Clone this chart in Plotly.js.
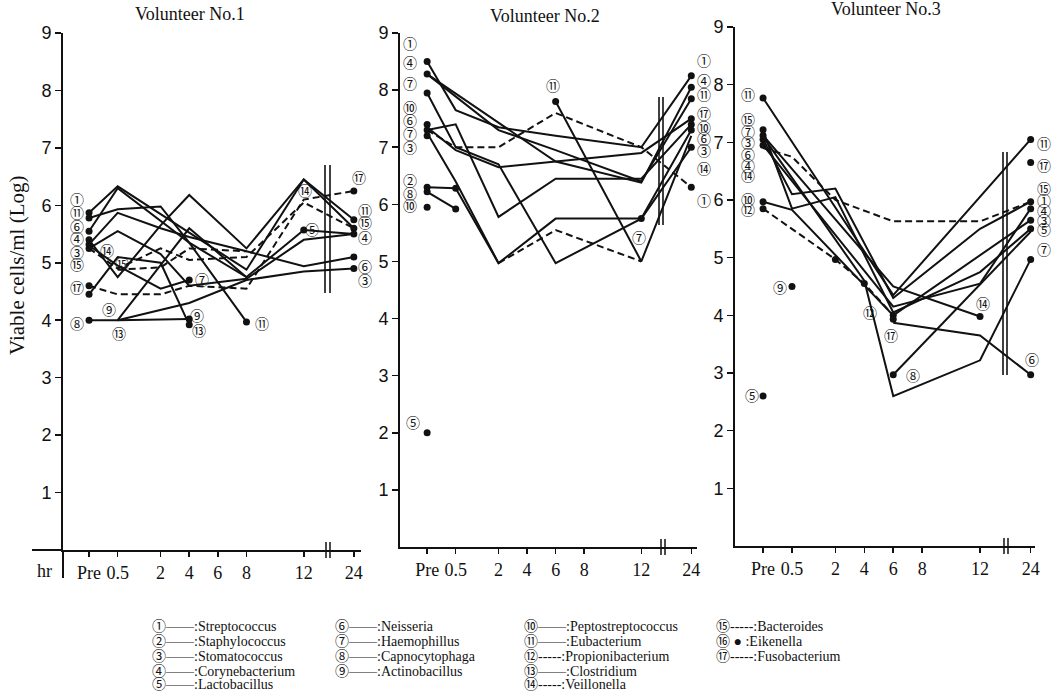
<!DOCTYPE html>
<html><head><meta charset="utf-8">
<script src="https://cdn.plot.ly/plotly-3.0.1.min.js"></script>
<style>body{margin:0;background:#fff}#chart{width:1055px;height:692px}</style>
</head><body><div id="chart"></div>
<script>
// ---------- axis categories ----------
const timeLabels = ["Pre","0.5","2","4","6","8","12","24"];
const timePos = [0, 1, 2.5, 3.5, 4.5, 5.5, 7.5, 9.25];
const yTicks = [1,2,3,4,5,6,7,8,9];

// ---------- Volunteer No.1 (log viable cells/ml at Pre,0.5,2,4,6,8,12,24 h) ----------
const v1_s1 = [5.87, 6.33, null, null, null, 4.88, 6.45, 5.75];
const v1_s2 = [5.78, 5.93, 5.98, 5.35, null, 4.75, 5.57, 5.5];
const v1_s3 = [5.4, 4.75, 5.65, 6.18, null, 5.25, 6.45, 5.6];
const v1_s4 = [5.32, 5.87, 5.6, 5.45, null, 5.2, 4.94, 5.1];
const v1_s5 = [5.25, 5.55, 5.15, 4.6, null, 4.72, 5.4, 5.5];
const v1_s6 = [5.55, 6.3, null, 5.35, null, 3.97, null, null];
const v1_s7 = [4.0, 4.0, null, 4.02, null, null, null, null];
const v1_s8 = [null, 4.0, null, 5.6, null, 4.75, null, null];
const v1_s9 = [null, 4.0, null, 4.3, null, 4.7, 4.85, 4.9];
const v1_s10 = [4.45, 5.1, 5.0, 3.92, null, null, null, null];
const v1_s11 = [5.3, 4.95, 4.55, 4.7, null, null, null, null];
const v1_d1 = [4.6, 4.45, 4.45, 4.6, null, 4.55, 6.1, 6.25];
const v1_d2 = [5.25, 4.9, 5.25, 5.05, null, 5.1, 6.05, 5.6];
const v1_d3 = [null, 4.88, 4.92, 5.25, null, 5.2, null, null];
const v1DotIdx = [0,0,0,0,0,0,0,0,0, 3,3,3, 5, 6, 7,7,7,7,7,7];
const v1DotVal = [5.87,5.78,5.55,5.4,5.32,5.25,4.6,4.45,4.0, 4.7,4.02,3.92, 3.97, 5.57, 6.25,5.75,5.6,5.5,5.1,4.9];
const v1LabText = ["①","⑪","⑥","④","③","⑮","⑰","⑧","⑭","⑮","⑨","⑬","⑦","⑨","⑬","⑪","⑭","⑤","⑰","⑪","⑮","④","⑥","③"];
const v1LabIdx  = [0,0,0,0,0,0,0,0, 1,1,1,1, 3,3,3, 5, 6,6, 7,7,7,7,7,7];
const v1LabDx   = [-0.42,-0.42,-0.42,-0.42,-0.42,-0.42,-0.42,-0.42, -0.37,0.15,-0.3,0.05, 0.44,0.28,0.34, 0.55, 0.03,0.3, 0.18,0.4,0.4,0.4,0.4,0.4];
const v1LabVal  = [6.11,5.89,5.64,5.43,5.19,4.98,4.58,3.95, 5.22,5.0,4.2,3.78, 4.72,4.09,3.83, 3.95, 6.27,5.59, 6.5,5.92,5.71,5.45,4.95,4.7];

// ---------- Volunteer No.2 ----------
const v2_s1 = [8.5, 7.65, 7.35, null, 7.2, null, 7.0, 8.25];
const v2_s2 = [8.28, null, null, null, 6.75, null, 6.38, 8.05];
const v2_s3 = [8.28, null, 7.3, null, 6.95, null, 6.4, 7.85];
const v2_s4 = [7.95, 7.0, 6.7, null, 4.97, null, 5.75, 7.0];
const v2_s5 = [7.3, 7.4, 5.78, null, 6.45, null, 6.45, 7.4];
const v2_s6 = [7.25, 6.4, 4.97, null, 5.75, null, 5.75, 7.3];
const v2_s7 = [7.35, 6.95, 6.65, null, 6.75, null, 6.9, 7.5];
const v2_s8 = [null, null, null, null, 7.8, null, 5.0, 7.2];
const v2_s9 = [6.3, 6.28, 4.97, null, null, null, null, null];
const v2_s10 = [6.22, 5.92, null, null, null, null, null, null];
const v2_d1 = [7.3, 7.0, 7.0, null, 7.6, null, 7.0, 6.3];
const v2_d2 = [null, null, 4.97, null, 5.55, null, 5.0, null];
const v2DotIdx = [0,0,0,0,0,0,0,0,0,0, 1,1, 4, 6, 7,7,7,7,7,7,7,7];
const v2DotVal = [8.5,8.28,7.95,7.4,7.3,7.2,6.3,6.22,5.95,2.0, 6.28,5.92, 7.8, 5.75, 8.25,8.05,7.85,7.5,7.4,7.3,7.0,6.3];
const v2LabText = ["①","④","⑦","⑩","⑥","⑦","③","②","⑧","⑩","⑤","⑪","⑦","①","④","⑪","⑰","⑩","⑥","③","⑭","①"];
const v2LabIdx  = [0,0,0,0,0,0,0,0,0,0,0, 4, 6, 7,7,7,7,7,7,7,7,7];
const v2LabDx   = [-0.6,-0.6,-0.6,-0.6,-0.6,-0.6,-0.6,-0.6,-0.6,-0.6,-0.5, -0.08, -0.07, 0.45,0.45,0.45,0.45,0.45,0.45,0.45,0.45,0.45];
const v2LabVal  = [8.83,8.5,8.13,7.7,7.48,7.25,7.0,6.43,6.2,5.99,2.19, 8.09, 5.43, 8.53,8.18,7.93,7.6,7.36,7.16,6.95,6.63,6.08];

// ---------- Volunteer No.3 ----------
const v3_s1 = [7.77, null, null, null, 4.35, null, null, 7.05];
const v3_s2 = [7.05, 6.1, 6.2, null, 4.3, null, 5.5, 5.97];
const v3_s3 = [7.2, 5.85, 6.05, null, 4.05, null, 4.75, 5.5];
const v3_s4 = [5.97, 5.83, null, null, 4.0, null, null, 5.65];
const v3_s5 = [7.1, null, 5.3, 4.6, 2.6, null, 3.22, 4.97];
const v3_s6 = [null, null, null, null, 2.97, null, null, 5.45];
const v3_s7 = [7.12, null, null, null, 4.5, null, 3.98, null];
const v3_s8 = [null, null, null, null, 3.87, null, 3.65, 2.97];
const v3_s9 = [6.95, null, null, null, 4.15, null, 4.55, 5.85];
const v3_d1 = [6.9, 6.75, 6.0, null, 5.63, null, 5.63, 5.97];
const v3_d2 = [5.85, null, 4.97, 4.55, 4.0, null, null, null];
const v3DotIdx = [0,0,0,0,0,0,0,0, 1, 2,3, 4,4,4, 6, 7,7,7,7,7,7,7,7];
const v3DotVal = [7.77,7.22,7.12,7.05,6.95,5.97,5.85,2.6, 4.5, 4.97,4.55, 4.0,3.93,2.97, 3.98, 7.05,6.65,5.97,5.85,5.65,5.5,4.97,2.97];
const v3LabText = ["⑪","⑮","⑦","③","⑥","④","⑭","⑩","⑫","⑨","⑤","⑫","⑰","⑧","⑭","⑥","⑪","⑰","⑮","①","④","③","⑤","⑦"];
const v3LabIdx  = [0,0,0,0,0,0,0,0,0, 1, 0, 3, 4, 5, 6, 7, 7,7,7,7,7,7,7,7];
const v3LabDx   = [-0.52,-0.52,-0.52,-0.52,-0.52,-0.52,-0.52,-0.52,-0.52, -0.4, -0.38, 0.2, -0.08, -0.32, 0.1, 0.05, 0.45,0.45,0.45,0.45,0.45,0.45,0.45,0.45];
const v3LabVal  = [7.83,7.4,7.2,7.0,6.8,6.6,6.44,6.02,5.85, 4.5, 2.62, 4.06, 3.66, 2.97, 4.22, 3.25, 6.98,6.61,6.2,6.0,5.83,5.66,5.49,5.15];

// ---------- legend ----------
const legendCol1 = ["①——:Streptococcus","②——:Staphylococcus","③——:Stomatococcus","④——:Corynebacterium","⑤——:Lactobacillus"];
const legendCol2 = ["⑥——:Neisseria","⑦——:Haemophillus","⑧——:Capnocytophaga","⑨——:Actinobacillus"];
const legendCol3 = ["⑩——:Peptostreptococcus","⑪——:Eubacterium","⑫-----:Propionibacterium","⑬——:Clostridium","⑭-----:Veillonella"];
const legendCol4 = ["⑮-----:Bacteroides","⑯ ● :Eikenella","⑰-----:Fusobacterium"];

// ---------- build ----------
const W = 1055, H = 692, T = 25, B = 142;
const PH = H - T - B;
const pxX = p => p / W;
const pyY = p => (H - B - p) / PH;
const BLACK = '#111';
const serif = 'Liberation Serif, Noto Sans CJK JP, serif';
const circ = 'Noto Sans CJK JP, DejaVu Sans, sans-serif';

const xDom = [[pxX(63), pxX(361)], [pxX(400), pxX(697)], [pxX(735), pxX(1035)]];
const xRng = [[-0.91, 9.5], [-0.95, 9.45], [-0.97, 9.4]];
const yDom = [[pyY(550), pyY(33)], [pyY(547), pyY(33)], [pyY(546), pyY(27)]];

const traces = [];
const annotations = [];
const shapes = [];

function addPanel(n, solids, dashes, dotIdx, dotVal, labText, labIdx, labDx, labVal) {
  const xa = n === 1 ? 'x' : 'x' + n;
  const ya = n === 1 ? 'y' : 'y' + n;
  const d = xDom[n-1], r = xRng[n-1];
  const toPaper = p => d[0] + (p - r[0]) / (r[1] - r[0]) * (d[1] - d[0]);
  solids.forEach(s => traces.push({x: timePos, y: s, xaxis: xa, yaxis: ya, mode: 'lines', connectgaps: true,
    line: {color: BLACK, width: 2}, hoverinfo: 'skip', showlegend: false}));
  dashes.forEach(s => traces.push({x: timePos, y: s, xaxis: xa, yaxis: ya, mode: 'lines', connectgaps: true,
    line: {color: BLACK, width: 2, dash: '7px,4px'}, hoverinfo: 'skip', showlegend: false}));
  traces.push({x: dotIdx.map(i => timePos[i]), y: dotVal, xaxis: xa, yaxis: ya, mode: 'markers',
    marker: {color: BLACK, size: 7}, hoverinfo: 'skip', showlegend: false, cliponaxis: false});
  labText.forEach((t, k) => annotations.push({x: toPaper(timePos[labIdx[k]] + labDx[k]), y: labVal[k],
    xref: 'paper', yref: ya, xanchor: 'center', yanchor: 'middle',
    text: t, showarrow: false, font: {family: circ, size: 14, color: BLACK}}));
}

addPanel(1, [v1_s1,v1_s2,v1_s3,v1_s4,v1_s5,v1_s6,v1_s7,v1_s8,v1_s9,v1_s10,v1_s11], [v1_d1,v1_d2,v1_d3],
  v1DotIdx, v1DotVal, v1LabText, v1LabIdx, v1LabDx, v1LabVal);
addPanel(2, [v2_s1,v2_s2,v2_s3,v2_s4,v2_s5,v2_s6,v2_s7,v2_s8,v2_s9,v2_s10], [v2_d1,v2_d2],
  v2DotIdx, v2DotVal, v2LabText, v2LabIdx, v2LabDx, v2LabVal);
addPanel(3, [v3_s1,v3_s2,v3_s3,v3_s4,v3_s5,v3_s6,v3_s7,v3_s8,v3_s9], [v3_d1,v3_d2],
  v3DotIdx, v3DotVal, v3LabText, v3LabIdx, v3LabDx, v3LabVal);

// titles
[["Volunteer No.1",190,14],["Volunteer No.2",545,16],["Volunteer No.3",886,9]].forEach(([t,x,y]) =>
  annotations.push({text: t, x: pxX(x), y: pyY(y), xref: 'paper', yref: 'paper', showarrow: false,
    xanchor: 'center', yanchor: 'middle', font: {family: serif, size: 18, color: BLACK}}));
// y title
annotations.push({text: 'Viable cells/ml (Log)', x: pxX(17), y: pyY(265), xref: 'paper', yref: 'paper',
  xanchor: 'center', yanchor: 'middle',
  showarrow: false, textangle: -90, font: {family: serif, size: 21, color: BLACK}});
// hr label
annotations.push({text: 'hr', x: pxX(44), y: pyY(571), xref: 'paper', yref: 'paper', showarrow: false,
  xanchor: 'center', yanchor: 'middle', font: {family: serif, size: 18, color: BLACK}});

// legend
const rows = [626, 641, 656, 671, 684];
[[legendCol1,150],[legendCol2,333],[legendCol3,522],[legendCol4,714]].forEach(([col,x]) =>
  col.forEach((t,k) => annotations.push({text: t, x: pxX(x), y: pyY(rows[k]), xref: 'paper', yref: 'paper',
    xanchor: 'left', yanchor: 'middle', showarrow: false, font: {family: serif, size: 14, color: BLACK}})));

// x-axis extension & separator on panel 1
shapes.push({type:'line', xref:'paper', yref:'paper', x0:pxX(32), x1:pxX(63), y0:pyY(550), y1:pyY(550), line:{color:BLACK,width:2}});
shapes.push({type:'line', xref:'paper', yref:'paper', x0:pxX(63), x1:pxX(63), y0:pyY(550), y1:pyY(578), line:{color:BLACK,width:2}});
// axis break marks
[[328,550],[663,547],[1006,546]].forEach(([x,y]) => {
  [-2,2].forEach(d => shapes.push({type:'line', xref:'paper', yref:'paper', x0:pxX(x+d), x1:pxX(x+d),
    y0:pyY(y-8), y1:pyY(y+8), line:{color:BLACK,width:1.5}}));
});
// double vertical break lines in data area
[[325,330,165,293],[659,663,97,225],[1003,1007,152,375]].forEach(([a,b,t,bt]) => {
  [a,b].forEach(x => shapes.push({type:'line', xref:'paper', yref:'paper', x0:pxX(x), x1:pxX(x),
    y0:pyY(t), y1:pyY(bt), line:{color:BLACK,width:1.6}}));
});

function xAxis(dom, range, anchor) {
  return {domain: dom, range: range, anchor: anchor, showline: true, linecolor: BLACK, linewidth: 2,
    tickvals: timePos, ticktext: timeLabels, ticks: 'outside', ticklen: 5, tickwidth: 1.5, tickcolor: BLACK,
    showgrid: false, zeroline: false, fixedrange: true,
    tickfont: {family: serif, size: 18, color: BLACK}};
}
function yAxis(dom, anchor) {
  return {domain: dom, range: [0, 9], anchor: anchor, showline: true, linecolor: BLACK, linewidth: 2,
    tickvals: yTicks, ticks: 'outside', ticklen: 6, tickwidth: 1.5, tickcolor: BLACK,
    showgrid: false, zeroline: false, fixedrange: true,
    tickfont: {family: 'Liberation Sans, Arial, sans-serif', size: 18, color: BLACK}};
}

const layout = {
  width: W, height: H, margin: {l: 0, r: 0, t: T, b: B},
  paper_bgcolor: '#fff', plot_bgcolor: '#fff', showlegend: false,
  xaxis: xAxis(xDom[0], xRng[0], 'y'),
  yaxis: yAxis(yDom[0], 'x'),
  xaxis2: xAxis(xDom[1], xRng[1], 'y2'),
  yaxis2: yAxis(yDom[1], 'x2'),
  xaxis3: xAxis(xDom[2], xRng[2], 'y3'),
  yaxis3: yAxis(yDom[2], 'x3'),
  annotations: annotations, shapes: shapes
};
Plotly.newPlot('chart', traces, layout, {staticPlot: true});
</script></body></html>
